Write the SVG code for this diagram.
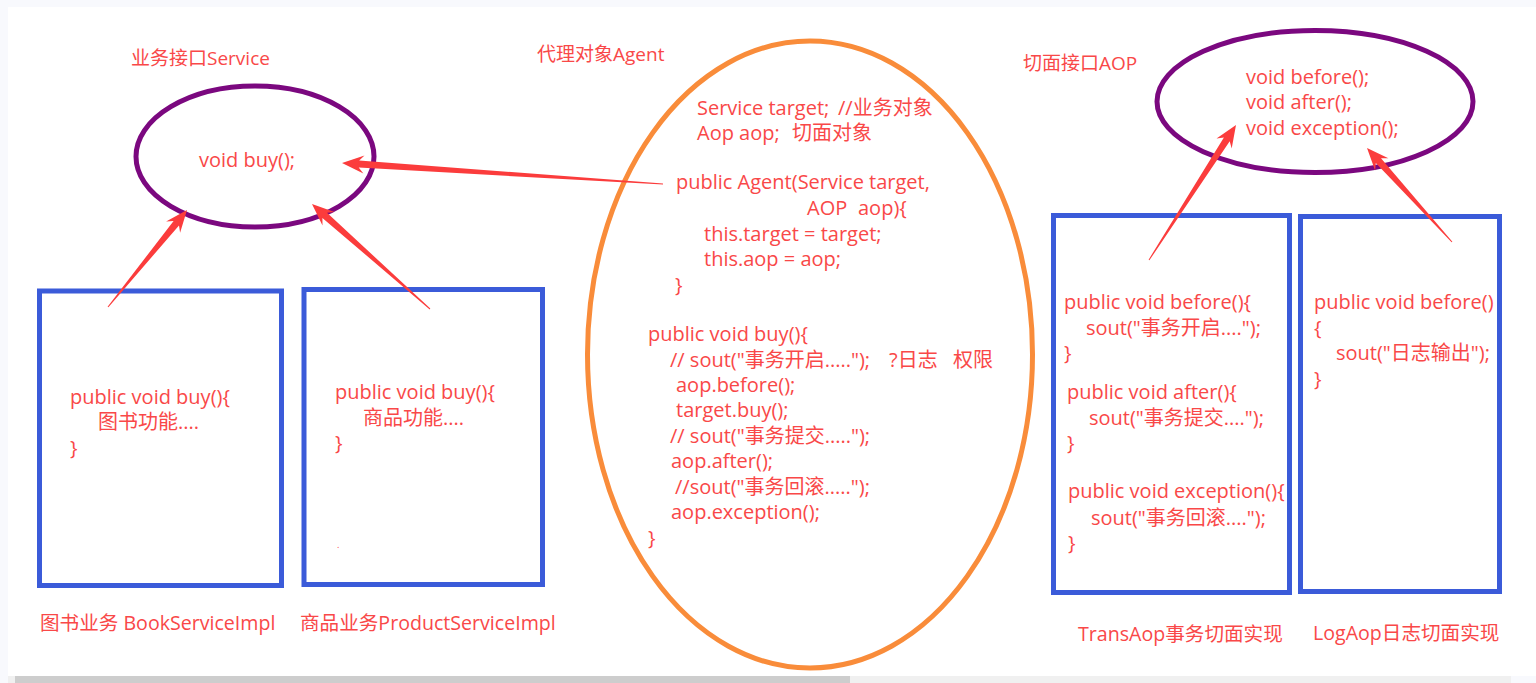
<svg xmlns="http://www.w3.org/2000/svg" width="1536" height="683" viewBox="0 0 1536 683">
<style>
text{font-family:"Open Sans","Noto Sans CJK SC",sans-serif;fill:#f94848;white-space:pre}
.c{font-size:20px}
.l{font-size:19px}
.b{font-size:19.6px}
.ell{fill:none;stroke:#7b087f;stroke-width:5}
.box{fill:none;stroke:#3b5bd9;stroke-width:5}
.arr{fill:#fb3c3c}
</style>
<rect x="0" y="0" width="1536" height="683" fill="#f8f9fd"/>
<rect x="8" y="7" width="1528" height="669" fill="#ffffff"/>
<rect x="8" y="676" width="1503" height="7" fill="#f0f0f0"/>
<rect x="15" y="676" width="835" height="7" fill="#cdcdcd"/>

<g id="node-service">
<text class="l" x="131" y="65">业务接口Service</text>
<ellipse class="ell" cx="255" cy="156.5" rx="119" ry="70.5"/>
<text class="c" x="199" y="167">void buy();</text>
</g>

<g id="node-agent">
<text class="l" x="537" y="61">代理对象Agent</text>
<ellipse cx="810" cy="354.5" rx="222.5" ry="313.5" fill="none" stroke="#f98c3a" stroke-width="5"/>
<text class="c" x="697" y="115">Service target;<tspan x="838">//业务对象</tspan></text>
<text class="c" x="697" y="140">Aop aop;<tspan x="792">切面对象</tspan></text>
<text class="c" x="676" y="189">public Agent(Service target,</text>
<text class="c" x="807" y="215">AOP<tspan x="858">aop){</tspan></text>
<text class="c" x="704" y="241">this.target = target;</text>
<text class="c" x="704" y="266">this.aop = aop;</text>
<text class="c" x="675" y="292">}</text>
<text class="c" x="648" y="341">public void buy(){</text>
<text class="c" x="670" y="367">// sout("事务开启.....");<tspan x="889">?日志</tspan><tspan x="953">权限</tspan></text>
<text class="c" x="676" y="392">aop.before();</text>
<text class="c" x="676" y="417">target.buy();</text>
<text class="c" x="670" y="443">// sout("事务提交.....");</text>
<text class="c" x="671" y="468">aop.after();</text>
<text class="c" x="675" y="494">//sout("事务回滚.....");</text>
<text class="c" x="671" y="519">aop.exception();</text>
<text class="c" x="648" y="545">}</text>
</g>

<g id="node-aop">
<text class="l" x="1023" y="70">切面接口AOP</text>
<ellipse class="ell" cx="1315" cy="101.5" rx="158" ry="71"/>
<text class="c" x="1246" y="84">void before();</text>
<text class="c" x="1246" y="109">void after();</text>
<text class="c" x="1246" y="135">void exception();</text>
</g>

<g id="node-book">
<rect class="box" x="39.5" y="291" width="242" height="294.5"/>
<text class="c" x="70" y="404">public void buy(){</text>
<text class="c" x="98" y="429">图书功能....</text>
<text class="c" x="70" y="455">}</text>
<text class="b" x="40" y="630">图书业务 BookServiceImpl</text>
</g>

<g id="node-product">
<rect class="box" x="304" y="289.5" width="238.5" height="295"/>
<text class="c" x="335" y="399">public void buy(){</text>
<text class="c" x="363" y="425">商品功能....</text>
<text class="c" x="335" y="450">}</text>
<text x="337" y="548" style="font-size:9px">.</text>
<text class="b" x="300" y="630">商品业务ProductServiceImpl</text>
</g>

<g id="node-trans">
<rect class="box" x="1053.5" y="215.5" width="236" height="377"/>
<text class="c" x="1064" y="309">public void before(){</text>
<text class="c" x="1086" y="335">sout("事务开启....");</text>
<text class="c" x="1064" y="360">}</text>
<text class="c" x="1067" y="399">public void after(){</text>
<text class="c" x="1089" y="425">sout("事务提交....");</text>
<text class="c" x="1067" y="450">}</text>
<text class="c" x="1068" y="498">public void exception(){</text>
<text class="c" x="1091" y="525">sout("事务回滚....");</text>
<text class="c" x="1068" y="550">}</text>
<text class="b" x="1078" y="641">TransAop事务切面实现</text>
</g>

<g id="node-log">
<rect class="box" x="1300.5" y="216.5" width="199" height="375"/>
<text class="c" x="1314" y="309">public void before()</text>
<text class="c" x="1314" y="335">{</text>
<text class="c" x="1336" y="360">sout("日志输出");</text>
<text class="c" x="1314" y="386">}</text>
<text class="b" x="1313" y="640">LogAop日志切面实现</text>
</g>

<g id="connectors">
<polygon class="arr" points="663,183.5 359.2,160.6 364.5,155.5 342,163 363.4,173.4 358.7,167.6 663,184.5"/>
<polygon class="arr" points="108.4,307.3 179,225.4 180.1,232.7 187,210 166.1,221.4 173.6,221 107.6,306.7"/>
<polygon class="arr" points="430.3,308.6 327,212.7 334.4,211.9 312,204 322.5,225.4 322.4,217.9 429.7,309.4"/>
<polygon class="arr" points="1149.4,260.3 1229.7,141.2 1231.7,148.4 1236,125 1216.5,138.6 1223.9,137.4 1148.6,259.7"/>
<polygon class="arr" points="1452.4,241.7 1381,158.3 1388.4,158.3 1367,148 1375.1,170.4 1375.8,163 1451.6,242.3"/>
</g>
</svg>
